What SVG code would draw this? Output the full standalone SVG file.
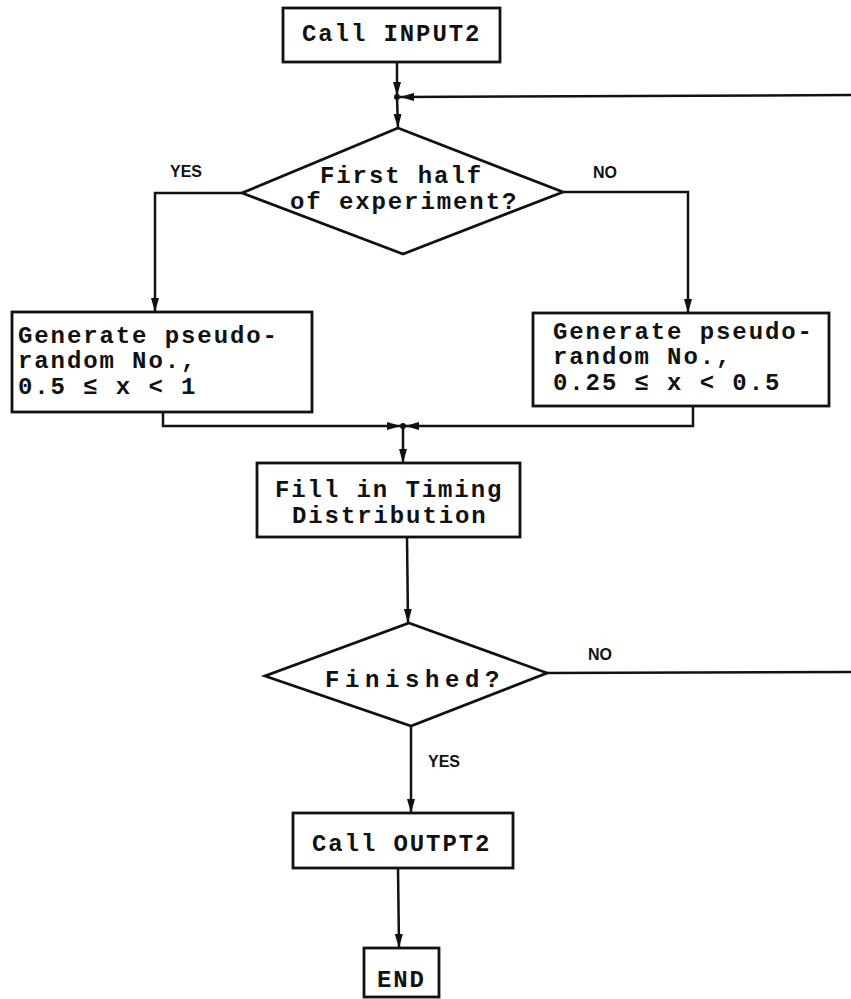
<svg xmlns="http://www.w3.org/2000/svg" width="851" height="999" viewBox="0 0 851 999">
<style>
.box{fill:none;stroke:#111;stroke-width:2.8}
.ln{fill:none;stroke:#111;stroke-width:2.5}
.tw{font-family:"Liberation Mono","DejaVu Sans Mono",monospace;font-size:24px;font-weight:bold;letter-spacing:1.9px;fill:#111}
.lb{font-family:"Liberation Sans","DejaVu Sans",sans-serif;font-size:16px;font-weight:bold;fill:#111}
</style>
<defs>
<marker id="ah" markerUnits="userSpaceOnUse" markerWidth="14" markerHeight="8" refX="14" refY="4" orient="auto">
<path d="M0,0 L14,4 L0,8 z" fill="#111"/>
</marker>
</defs>
<rect width="851" height="999" fill="#fff"/>
<g id="connectors">
<line class="ln" x1="397" y1="62" x2="397" y2="96" marker-end="url(#ah)"/>
<line class="ln" x1="397" y1="97" x2="398" y2="128" marker-end="url(#ah)"/>
<line class="ln" x1="851" y1="95" x2="400" y2="97" marker-end="url(#ah)"/>
<polyline class="ln" points="242,193 155,193 155,312" marker-end="url(#ah)"/>
<polyline class="ln" points="563,192 688,192 688,313" marker-end="url(#ah)"/>
<polyline class="ln" points="163,412 163,426 401,426" marker-end="url(#ah)"/>
<polyline class="ln" points="693,406 693,426 405,426" marker-end="url(#ah)"/>
<line class="ln" x1="403" y1="426" x2="403" y2="463" marker-end="url(#ah)"/>
<line class="ln" x1="407" y1="537" x2="408" y2="623" marker-end="url(#ah)"/>
<line class="ln" x1="547" y1="673" x2="851" y2="672"/>
<line class="ln" x1="411" y1="726" x2="411" y2="813" marker-end="url(#ah)"/>
<line class="ln" x1="398" y1="868" x2="399" y2="948" marker-end="url(#ah)"/>
<circle cx="397" cy="97" r="3" fill="#111"/>
<circle cx="403" cy="426" r="3" fill="#111"/>
<text class="lb" x="170" y="177">YES</text>
<text class="lb" x="593" y="178">NO</text>
<text class="lb" x="588" y="660">NO</text>
<text class="lb" x="428" y="767">YES</text>
</g>
<g id="start">
<rect class="box" x="283" y="8" width="217" height="54"/>
<text class="tw" x="302" y="41">Call INPUT2</text>
</g>
<g id="decision1">
<polygon class="box" points="398,128 563,192 403,254 242,193"/>
<text class="tw" x="320" y="183">First half</text>
<text class="tw" x="290" y="209">of experiment?</text>
</g>
<g id="gen-left">
<rect class="box" x="12" y="312" width="300" height="100"/>
<text class="tw" x="18" y="343">Generate pseudo-</text>
<text class="tw" x="18" y="368">random No.,</text>
<text class="tw" x="18" y="394">0.5 ≤ x &lt; 1</text>
</g>
<g id="gen-right">
<rect class="box" x="533" y="313" width="296" height="93"/>
<text class="tw" x="553" y="339">Generate pseudo-</text>
<text class="tw" x="553" y="364">random No.,</text>
<text class="tw" x="553" y="390">0.25 ≤ x &lt; 0.5</text>
</g>
<g id="fill">
<rect class="box" x="257" y="463" width="263" height="74"/>
<text class="tw" x="275" y="497">Fill in Timing</text>
<text class="tw" x="292" y="523">Distribution</text>
</g>
<g id="decision2">
<polygon class="box" points="409,623 547,673 411,726 265,676"/>
<text class="tw" x="325" y="687" style="letter-spacing:5.6px">Finished?</text>
</g>
<g id="output">
<rect class="box" x="293" y="813" width="220" height="55"/>
<text class="tw" x="312" y="851">Call OUTPT2</text>
</g>
<g id="end">
<rect class="box" x="364" y="948" width="75" height="49"/>
<text class="tw" x="377" y="987">END</text>
</g>
</svg>
